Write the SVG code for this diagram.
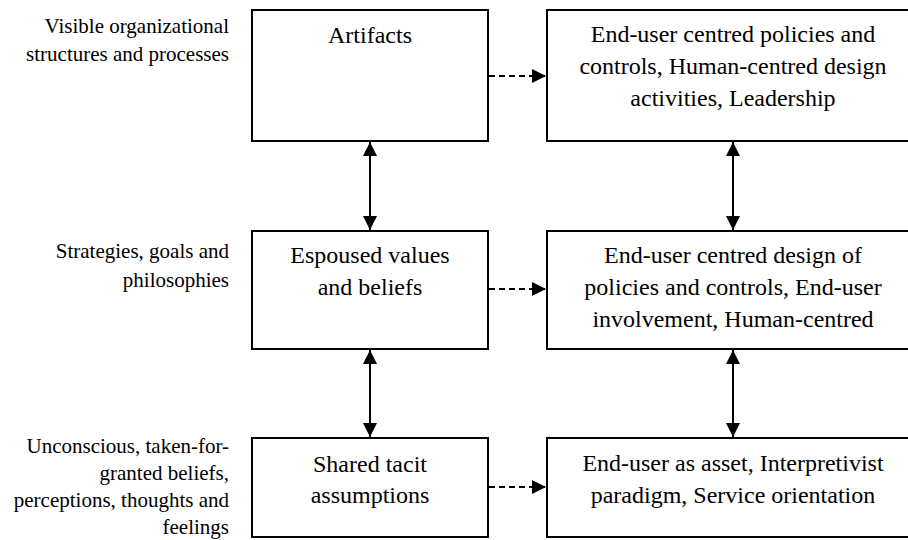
<svg xmlns="http://www.w3.org/2000/svg" width="908" height="540" viewBox="0 0 908 540">
<defs>
<style>
text{font-family:"Liberation Serif","Times New Roman",Times,Tinos,"Noto Serif","DejaVu Serif",FreeSerif,"Nimbus Roman","Noto Serif CJK SC",serif;fill:#000}
.box{fill:#fff;stroke:#000;stroke-width:2}
.t{font-size:24px;text-anchor:middle}
.l{font-size:21px;text-anchor:end}
.c{stroke:#000;stroke-width:2;fill:none}
.d{stroke:#000;stroke-width:2;fill:none;stroke-dasharray:6 4}
</style>
<marker id="ah" viewBox="0 0 14 14" refX="14" refY="7" markerWidth="14" markerHeight="14" markerUnits="userSpaceOnUse" orient="auto-start-reverse">
<path d="M0,0 L14,7 L0,14 Z" fill="#000"/>
</marker>
</defs>
<rect width="908" height="540" fill="#fff"/>
<g id="labels">
<text class="l" x="229" y="33">Visible organizational</text>
<text class="l" x="229" y="61">structures and processes</text>
<text class="l" x="229" y="258">Strategies, goals and</text>
<text class="l" x="229" y="287">philosophies</text>
<text class="l" x="229" y="453">Unconscious, taken-for-</text>
<text class="l" x="229" y="480">granted beliefs,</text>
<text class="l" x="229" y="507">perceptions, thoughts and</text>
<text class="l" x="229" y="534">feelings</text>
</g>
<g id="artifacts">
<rect class="box" x="252" y="10" width="236" height="131"/>
<text class="t" x="370" y="43">Artifacts</text>
</g>
<g id="espoused">
<rect class="box" x="252" y="231" width="236" height="118"/>
<text class="t" x="370" y="263">Espoused values</text>
<text class="t" x="370" y="295">and beliefs</text>
</g>
<g id="shared">
<rect class="box" x="252" y="438" width="236" height="99"/>
<text class="t" x="370" y="472">Shared tacit</text>
<text class="t" x="370" y="503">assumptions</text>
</g>
<g id="r-artifacts">
<rect class="box" x="547" y="10" width="372" height="131"/>
<text class="t" x="733" y="42">End-user centred policies and</text>
<text class="t" x="733" y="74">controls, Human-centred design</text>
<text class="t" x="733" y="106">activities, Leadership</text>
</g>
<g id="r-espoused">
<rect class="box" x="547" y="231" width="372" height="118"/>
<text class="t" x="733" y="263">End-user centred design of</text>
<text class="t" x="733" y="295">policies and controls, End-user</text>
<text class="t" x="733" y="327">involvement, Human-centred</text>
</g>
<g id="r-shared">
<rect class="box" x="547" y="438" width="372" height="99"/>
<text class="t" x="733" y="471">End-user as asset, Interpretivist</text>
<text class="t" x="733" y="503">paradigm, Service orientation</text>
</g>
<g id="connectors">
<line class="c" x1="370" y1="142" x2="370" y2="230" marker-start="url(#ah)" marker-end="url(#ah)"/>
<line class="c" x1="370" y1="350" x2="370" y2="437" marker-start="url(#ah)" marker-end="url(#ah)"/>
<line class="c" x1="733" y1="142" x2="733" y2="230" marker-start="url(#ah)" marker-end="url(#ah)"/>
<line class="c" x1="733" y1="350" x2="733" y2="437" marker-start="url(#ah)" marker-end="url(#ah)"/>
<line class="d" x1="489" y1="76" x2="546" y2="76" marker-end="url(#ah)"/>
<line class="d" x1="489" y1="289" x2="546" y2="289" marker-end="url(#ah)"/>
<line class="d" x1="489" y1="487" x2="546" y2="487" marker-end="url(#ah)"/>
</g>
</svg>
